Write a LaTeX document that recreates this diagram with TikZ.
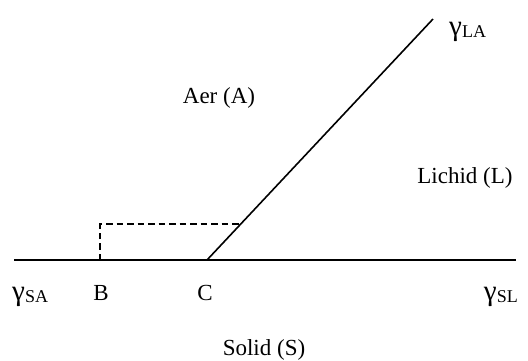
\documentclass[tikz,border=0pt]{standalone}
\usepackage{fontspec}
\setmainfont{Liberation Serif}
\begin{document}
\begin{tikzpicture}[x=1pt,y=-1pt,
  lbl/.style={inner sep=0pt,anchor=base,font=\fontsize{23}{27}\selectfont},
  ln/.style={line width=1.6pt},
  dsh/.style={line width=1.6pt,dash pattern=on 6.5pt off 4pt}]
\useasboundingbox (0,0) rectangle (528,360);
\coordinate (L) at (14,260);
\coordinate (R) at (516,260);
\coordinate (B) at (100,260);
\coordinate (C) at (207,260);
\coordinate (T) at (433,19);
\coordinate (D) at (100,224);
\coordinate (E) at (240.8,224);
\draw[ln] (L) -- (R);
\draw[ln] (C) -- (T);
\draw[dsh] (B) -- (D) -- (E);
\newcommand{\gsub}[1]{{\fontsize{29}{29}\selectfont γ}\raisebox{-0.12em}{\fontsize{18}{18}\selectfont #1}}
\node[lbl,anchor=base west] (gla) at (449,35) {\gsub{LA}};
\node[lbl] (aer) at (219,103) {Aer (A)};
\node[lbl] (lich) at (465,183) {Lichid (L)};
\node[lbl,anchor=base west] (gsa) at (12,300) {\gsub{SA}};
\node[lbl] (lb) at (101,300) {B};
\node[lbl] (lc) at (205,300) {C};
\node[lbl,anchor=base east] (gsl) at (518,300) {\gsub{SL}};
\node[lbl] (sol) at (264,355) {Solid (S)};
\end{tikzpicture}
\end{document}
